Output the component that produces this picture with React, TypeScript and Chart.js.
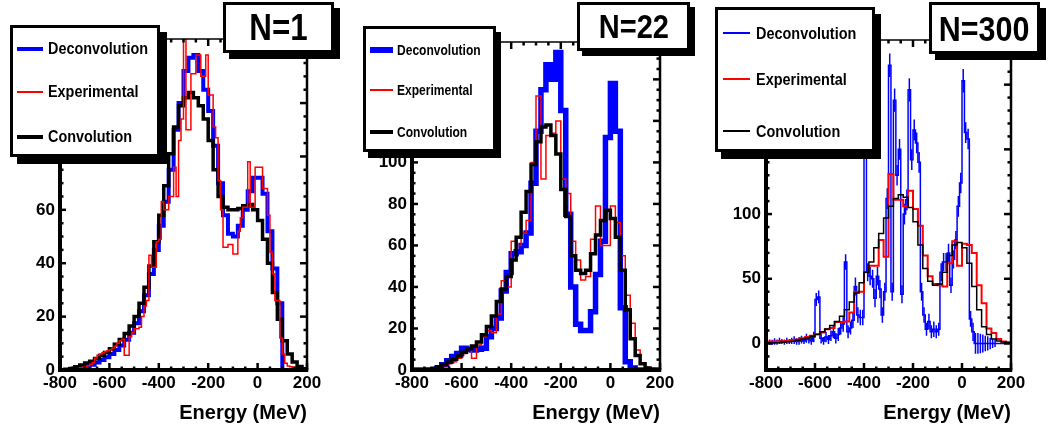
import React, { useEffect, useRef } from "react";
import { Chart, registerables } from "chart.js";

Chart.register(...registerables);

const FONT = '"Liberation Sans", Arial, Helvetica, sans-serif';
const BLUE = "#0000ff";
const RED = "#ff0000";
const BLACK = "#000000";

// Energy axis (MeV)
const E_LOW = -800;
const E_HIGH = 200;
const X_TICK_STEP = 200;
const X_MINOR_STEP = 50;
const AXIS_TITLE = "Energy (MeV)";
const SERIES_NAMES = ["Deconvolution", "Experimental", "Convolution"];

// ---------------- N = 1 ----------------
const n1BinWidth = 20;
const n1ExpBinWidth = 10;
const n1Deconvolution = [
  0, 0, 0.2, 0.5, 0.9, 1.4, 2.0, 2.8, 3.7, 4.8,
  6.0, 7.5, 9.2, 11.3, 14, 17.5, 22, 28, 36, 45,
  54, 63, 75, 90, 100, 112, 117, 118, 112, 105,
  97, 84, 70, 58, 51, 50, 54, 60, 67, 72,
  72, 66, 52, 38, 25, 0, 0, 0, 0, 0,
];
const n1Experimental = [
  0, 0, 0, 0, 0.3, 0.3, 0.5, 0.6, 0.8, 1.0,
  1.2, 1.6, 2.2, 2.8, 4.5, 5.5, 6.0, 6.5, 6.8, 7.2,
  7.6, 8.2, 9.0, 10, 11, 11.5, 5.5, 5.5, 12.5, 14,
  15.5, 15.5, 16, 20, 24, 26, 43, 38.5, 38.5, 48,
  49, 63, 60, 60, 65, 65, 76, 65, 86, 94,
  124, 90, 90, 111, 111, 118, 118, 110, 110, 118,
  103, 103, 91, 87, 71, 60, 46, 46, 47, 47,
  43.5, 43.5, 52, 57, 61, 61, 78, 61, 61, 76,
  76, 76, 68, 68, 58, 44, 36, 26, 26, 12,
  6, 2.5, 1.5, 1.2, 1, 0.5, 0, 0, 0, 0,
];
const n1Convolution = [
  0.1, 0.3, 0.6, 1.2, 1.9, 2.6, 3.3, 4.3, 5.4, 6.6,
  8.0, 9.6, 11.4, 13.7, 16.5, 20, 25, 31, 39, 48,
  58, 69, 81, 91, 99, 102, 104, 102, 99, 94,
  86, 75, 65, 61, 60, 60, 60.5, 61.5, 62, 60,
  56, 49, 40, 29, 19, 11, 6, 3, 1.3, 0.5,
];

// ---------------- N = 22 ----------------
const n22BinWidth = 20;
const n22Deconvolution = [
  0, 0, 0, 0, 0, 0.8, 2.5, 4.5, 6.5, 8,
  10.5, 10, 9.6, 10, 10.5, 16, 20, 25, 38, 47,
  56, 57, 60, 66, 90, 115, 135, 147, 140, 153,
  125, 75, 40, 22, 19, 19, 28, 46, 62, 112,
  138, 115, 30, 4, 1, 0, 0, 0, 0, 0,
];
const n22Experimental = [
  0, 0, 0, 0, 0.5, 1.2, 2, 3, 4, 5.6,
  8, 10, 5.6, 12, 16, 19, 18, 27, 43, 40,
  62, 60, 66, 72, 100, 132, 92, 113, 114, 120,
  92, 85, 62, 53, 43.4, 45, 63, 79, 60, 60,
  79, 71, 55, 36, 22.5, 9.6, 3.2, 1, 0, 0,
];
const n22Convolution = [
  0, 0, 0, 0.3, 0.8, 1.6, 2.6, 3.8, 5.2, 6.8,
  8.6, 10.2, 11.6, 13.5, 17, 21, 26, 33, 39, 45,
  53, 64, 76, 86, 99, 110, 117, 118, 113, 104,
  87, 74, 55, 48, 46.5, 48, 56, 65, 72, 77,
  73, 64, 48, 29, 15, 7, 3, 1, 0.3, 0,
];

// ---------------- N = 300 ----------------
const n300DeconvBinWidth = 10;
const n300BinWidth = 20;
const n300Deconvolution = [
  0.5, 1, 0.8, 1.5, 1, 2, 1.5, 1, 2, 1.5,
  2, 2.5, 1.5, 2, 3, 2, 4, 3, 2, 5,
  34, 36, 4, 2, 5, 3, 6, 9, 4, 7,
  12, 15, 63, 9, 12, 18, 44, 22, 20, 20,
  160, 55, 52, 50, 35, 52, 42, 22, 40, 112,
  215, 40, 188, 130, 150, 38, 100, 111, 196, 142,
  165, 155, 140, 40, 22, 11, 17, 9, 11, 9,
  11, 55, 63, 63, 70, 45, 65, 80, 106, 124,
  203, 163, 158, 19, 9, 0, 0, 0, 0, 0,
  0, 0, 0, 0, 0, 0, 0, 0, 0, 0,
];
const n300DeconvolutionErr = [
  1.5, 2, 2, 2.5, 2, 2.5, 2, 2, 2.5, 2,
  2.5, 3, 2.5, 3, 3, 2.5, 3.5, 3, 3, 4,
  5, 5, 4, 3, 4, 3.5, 4, 5, 4, 5,
  5, 6, 6, 5, 5, 6, 7, 6, 6, 6,
  9, 7, 7, 7, 7, 7, 7, 6, 7, 8,
  9, 7, 9, 8, 8, 7, 8, 8, 9, 8,
  8, 8, 8, 7, 6, 5, 6, 5, 6, 5,
  5, 7, 7, 7, 7, 6, 7, 7, 8, 8,
  9, 8, 8, 6, 7, 8, 8, 7.5, 7, 6,
  5.5, 4.5, 3.5, 2.8, 0, 0, 0, 0, 0, 0,
];
const n300Experimental = [
  1.5, 1.5, 1.5, 1.8, 2, 2.5, 3, 4, 5, 6,
  7, 8.5, 11, 12, 16.5, 16.5, 17, 24, 40, 40,
  55, 60, 60, 80, 67, 131, 111, 111, 106, 118,
  104, 91, 68, 52, 46, 45, 44, 62, 79, 60,
  77, 76, 70, 45, 31, 11.5, 8, 3.5, 1.5, 1,
];
const n300Convolution = [
  0.3, 0.4, 0.6, 0.9, 1.3, 1.8, 2.4, 3.2, 4.3, 5.6,
  7.2, 9, 11.2, 13.8, 17, 21, 26, 32, 39, 47,
  55, 63, 74, 85, 97, 106, 112, 115, 113, 105,
  94, 76, 58, 48, 45, 46, 55, 68, 76, 78,
  74, 62, 44, 26, 13, 7, 3.5, 2, 1.2, 0.8,
];

// ---------------- layout ----------------
const H = 432;
const PLOT_BOTTOM = 370;

type SeriesDef = {
  name: string;
  values: number[];
  binWidth: number;
  color: string;
  width: number;
  order: number;
  errors?: number[];
};

type PanelDef = {
  tag: string;
  canvasLeft: number;
  canvasWidth: number;
  area: { left: number; right: number; top: number };
  yMin: number;
  yMax: number;
  yStep: number;
  yMinor: number;
  series: SeriesDef[];
  legend: {
    left: number; top: number; width: number; height: number;
    shadowX: number; shadowY: number;
    fontSize: number; squeeze: number;
    rows: number[]; sampleLeft: number; sampleWidth: number; textLeft: number;
  };
  tagBox: {
    left: number; top: number; width: number; height: number;
    shadow: number; fontSize: number; squeeze: number;
  };
};

const panels: PanelDef[] = [
  {
    tag: "N=1",
    canvasLeft: 0,
    canvasWidth: 345,
    area: { left: 60, right: 307, top: 39 },
    yMin: 0, yMax: 124, yStep: 20, yMinor: 5,
    series: [
      { name: SERIES_NAMES[0], values: n1Deconvolution, binWidth: n1BinWidth, color: BLUE, width: 4, order: 3 },
      { name: SERIES_NAMES[1], values: n1Experimental, binWidth: n1ExpBinWidth, color: RED, width: 1.5, order: 1 },
      { name: SERIES_NAMES[2], values: n1Convolution, binWidth: n1BinWidth, color: BLACK, width: 3.5, order: 2 },
    ],
    legend: {
      left: 10, top: 25, width: 150, height: 132, shadowX: 7, shadowY: 7,
      fontSize: 16, squeeze: 0.9,
      rows: [24, 67, 112], sampleLeft: 7, sampleWidth: 26, textLeft: 38,
    },
    tagBox: { left: 223, top: 2, width: 111, height: 51, shadow: 6, fontSize: 36, squeeze: 0.87 },
  },
  {
    tag: "N=22",
    canvasLeft: 350,
    canvasWidth: 350,
    area: { left: 62, right: 310, top: 42 },
    yMin: 0, yMax: 158, yStep: 20, yMinor: 5,
    series: [
      { name: SERIES_NAMES[0], values: n22Deconvolution, binWidth: n22BinWidth, color: BLUE, width: 5.5, order: 3 },
      { name: SERIES_NAMES[1], values: n22Experimental, binWidth: n22BinWidth, color: RED, width: 1.5, order: 2 },
      { name: SERIES_NAMES[2], values: n22Convolution, binWidth: n22BinWidth, color: BLACK, width: 3.5, order: 1 },
    ],
    legend: {
      left: 363, top: 26, width: 133, height: 126, shadowX: 5, shadowY: 6,
      fontSize: 14, squeeze: 0.86,
      rows: [24, 64, 106], sampleLeft: 7, sampleWidth: 23, textLeft: 34,
    },
    tagBox: { left: 577, top: 2, width: 113, height: 49, shadow: 5, fontSize: 33, squeeze: 0.88 },
  },
  {
    tag: "N=300",
    canvasLeft: 700,
    canvasWidth: 348,
    area: { left: 66, right: 311, top: 40 },
    yMin: -20.5, yMax: 234.5, yStep: 50, yMinor: 10,
    series: [
      { name: SERIES_NAMES[0], values: n300Deconvolution, binWidth: n300DeconvBinWidth, color: BLUE, width: 1.5, order: 3, errors: n300DeconvolutionErr },
      { name: SERIES_NAMES[1], values: n300Experimental, binWidth: n300BinWidth, color: RED, width: 2, order: 2 },
      { name: SERIES_NAMES[2], values: n300Convolution, binWidth: n300BinWidth, color: BLACK, width: 1.5, order: 1 },
    ],
    legend: {
      left: 715, top: 7, width: 160, height: 145, shadowX: 6, shadowY: 7,
      fontSize: 17, squeeze: 0.85,
      rows: [26, 72, 124], sampleLeft: 8, sampleWidth: 27, textLeft: 41,
    },
    tagBox: { left: 929, top: 2, width: 111, height: 52, shadow: 6, fontSize: 35, squeeze: 0.87 },
  },
];

// Histogram outline: one point per bin's left edge plus the closing right edge;
// "before" stepping holds each bin's value across its own width.
function toSteps(values: number[], binWidth: number) {
  const pts = values.map((v, i) => ({ x: E_LOW + i * binWidth, y: v }));
  pts.push({ x: E_LOW + values.length * binWidth, y: values[values.length - 1] });
  return pts;
}

// Frame with inward ticks on all four sides
const rootFrame = {
  id: "rootFrame",
  afterDraw(chart: any, _args: any, opts: any) {
    const { ctx, chartArea: a } = chart;
    const xs = chart.scales.x;
    const ys = chart.scales.y;
    const seg = (x1: number, y1: number, x2: number, y2: number) => {
      ctx.beginPath();
      ctx.moveTo(x1, y1);
      ctx.lineTo(x2, y2);
      ctx.stroke();
    };
    ctx.save();
    ctx.strokeStyle = "#000";
    ctx.lineCap = "butt";
    ctx.lineWidth = 2.5;
    const nx = Math.round((xs.max - xs.min) / opts.xMinor);
    const perMajorX = Math.round(opts.xMajor / opts.xMinor);
    for (let i = 0; i <= nx; i++) {
      const v = xs.min + i * opts.xMinor;
      const px = xs.getPixelForValue(v);
      const len = i % perMajorX === 0 ? 7 : 3.5;
      seg(px, a.bottom, px, a.bottom - len);
      seg(px, a.top, px, a.top + len);
    }
    const k0 = Math.ceil(ys.min / opts.yMinor);
    const k1 = Math.floor(ys.max / opts.yMinor);
    const perMajorY = Math.round(opts.yMajor / opts.yMinor);
    for (let k = k0; k <= k1; k++) {
      const py = ys.getPixelForValue(k * opts.yMinor);
      const major = k % perMajorY === 0;
      seg(a.left, py, a.left + (major ? 6 : 3.5), py);
      seg(a.right, py, a.right - (major ? 7 : 3.5), py);
    }
    ctx.lineWidth = 1.5;
    seg(a.left, a.top, a.right, a.top);
    ctx.lineWidth = 2.5;
    seg(a.right, a.top, a.right, a.bottom);
    ctx.lineWidth = 4;
    seg(a.left, a.top - 1, a.left, a.bottom + 2);
    seg(a.left - 2, a.bottom, a.right + 1.25, a.bottom);
    ctx.restore();
  },
};

// Vertical error bars at the bin centres of datasets that carry errors
const errorBars = {
  id: "errorBars",
  afterDatasetDraw(chart: any, args: any) {
    const ds: any = chart.data.datasets[args.index];
    if (!ds.errors) return;
    const { ctx, chartArea: a } = chart;
    const xs = chart.scales.x;
    const ys = chart.scales.y;
    ctx.save();
    ctx.beginPath();
    ctx.rect(a.left, a.top, a.right - a.left, a.bottom - a.top);
    ctx.clip();
    ctx.strokeStyle = ds.borderColor;
    ctx.lineWidth = ds.borderWidth;
    ctx.beginPath();
    ds.errors.forEach((e: number, i: number) => {
      if (!e) return;
      const pt = ds.data[i];
      const px = xs.getPixelForValue(pt.x + ds.binWidth / 2);
      ctx.moveTo(px, ys.getPixelForValue(pt.y - e));
      ctx.lineTo(px, ys.getPixelForValue(pt.y + e));
    });
    ctx.stroke();
    ctx.restore();
  },
};

function PanelChart({ def }: { def: PanelDef }) {
  const ref = useRef<HTMLCanvasElement | null>(null);
  useEffect(() => {
    const canvas = ref.current;
    if (!canvas) return;
    const chart = new Chart(canvas, {
      type: "line",
      data: {
        datasets: def.series.map((s) => ({
          label: s.name,
          data: toSteps(s.values, s.binWidth),
          borderColor: s.color,
          backgroundColor: s.color,
          borderWidth: s.width,
          stepped: "before",
          pointRadius: 0,
          fill: false,
          tension: 0,
          order: s.order,
          errors: s.errors,
          binWidth: s.binWidth,
        })) as any,
      },
      options: {
        responsive: false,
        animation: false,
        devicePixelRatio: 1,
        events: [],
        layout: {
          padding: { left: 0, right: def.canvasWidth - def.area.right, top: def.area.top, bottom: 0 },
        },
        plugins: {
          legend: { display: false },
          tooltip: { enabled: false },
          rootFrame: { xMajor: X_TICK_STEP, xMinor: X_MINOR_STEP, yMajor: def.yStep, yMinor: def.yMinor },
        } as any,
        scales: {
          x: {
            type: "linear",
            min: E_LOW,
            max: E_HIGH,
            afterFit: (s: any) => {
              s.height = H - PLOT_BOTTOM;
            },
            grid: { display: false, drawTicks: false },
            border: { display: false },
            ticks: {
              stepSize: X_TICK_STEP,
              autoSkip: false,
              maxRotation: 0,
              padding: 3,
              color: "#000",
              font: { family: FONT, size: 17, weight: "bold" },
            },
            title: {
              display: true,
              text: AXIS_TITLE,
              align: "end",
              color: "#000",
              font: { family: FONT, size: 20, weight: "bold" },
              padding: { top: 0, bottom: 7 },
            },
          },
          y: {
            type: "linear",
            min: def.yMin,
            max: def.yMax,
            afterFit: (s: any) => {
              s.width = def.area.left;
            },
            grid: { display: false, drawTicks: false },
            border: { display: false },
            ticks: {
              stepSize: def.yStep,
              includeBounds: false,
              padding: 5,
              color: "#000",
              font: { family: FONT, size: 17, weight: "bold" },
            },
          },
        },
      } as any,
      plugins: [rootFrame, errorBars],
    });
    return () => chart.destroy();
  }, [def]);
  return (
    <canvas
      ref={ref}
      width={def.canvasWidth}
      height={H}
      style={{ position: "absolute", left: def.canvasLeft, top: 0, width: def.canvasWidth, height: H }}
    />
  );
}

function LegendBox({ def }: { def: PanelDef }) {
  const L = def.legend;
  const border = 3;
  return (
    <div
      style={{
        position: "absolute",
        left: L.left,
        top: L.top,
        width: L.width,
        height: L.height,
        boxSizing: "border-box",
        border: `${border}px solid #000`,
        background: "#fff",
        boxShadow: `${L.shadowX}px ${L.shadowY}px 0 #000`,
      }}
    >
      {def.series.map((s, i) => (
        <React.Fragment key={s.name}>
          <div
            style={{
              position: "absolute",
              left: L.sampleLeft - border,
              top: L.rows[i] - border - s.width / 2,
              width: L.sampleWidth,
              height: s.width,
              background: s.color,
            }}
          />
          <span
            style={{
              position: "absolute",
              left: L.textLeft - border,
              top: L.rows[i] - border,
              fontFamily: FONT,
              fontWeight: "bold",
              fontSize: L.fontSize,
              lineHeight: 1,
              whiteSpace: "nowrap",
              color: "#000",
              transform: `translateY(-50%) scaleX(${L.squeeze})`,
              transformOrigin: "left center",
            }}
          >
            {s.name}
          </span>
        </React.Fragment>
      ))}
    </div>
  );
}

function TagBox({ def }: { def: PanelDef }) {
  const T = def.tagBox;
  return (
    <div
      style={{
        position: "absolute",
        left: T.left,
        top: T.top,
        width: T.width,
        height: T.height,
        boxSizing: "border-box",
        border: "3px solid #000",
        background: "#fff",
        boxShadow: `${T.shadow}px ${T.shadow}px 0 #000`,
        display: "flex",
        alignItems: "center",
        justifyContent: "center",
      }}
    >
      <span
        style={{
          fontFamily: FONT,
          fontWeight: "bold",
          fontSize: T.fontSize,
          lineHeight: 1,
          color: "#000",
          display: "inline-block",
          transform: `scaleX(${T.squeeze})`,
        }}
      >
        {def.tag}
      </span>
    </div>
  );
}

export default function App() {
  return (
    <div
      style={{
        position: "fixed",
        left: 0,
        top: 0,
        width: 1048,
        height: H,
        background: "#fff",
        overflow: "hidden",
      }}
    >
      {panels.map((p) => (
        <PanelChart key={p.tag} def={p} />
      ))}
      {panels.map((p) => (
        <LegendBox key={"l" + p.tag} def={p} />
      ))}
      {panels.map((p) => (
        <TagBox key={"t" + p.tag} def={p} />
      ))}
    </div>
  );
}
